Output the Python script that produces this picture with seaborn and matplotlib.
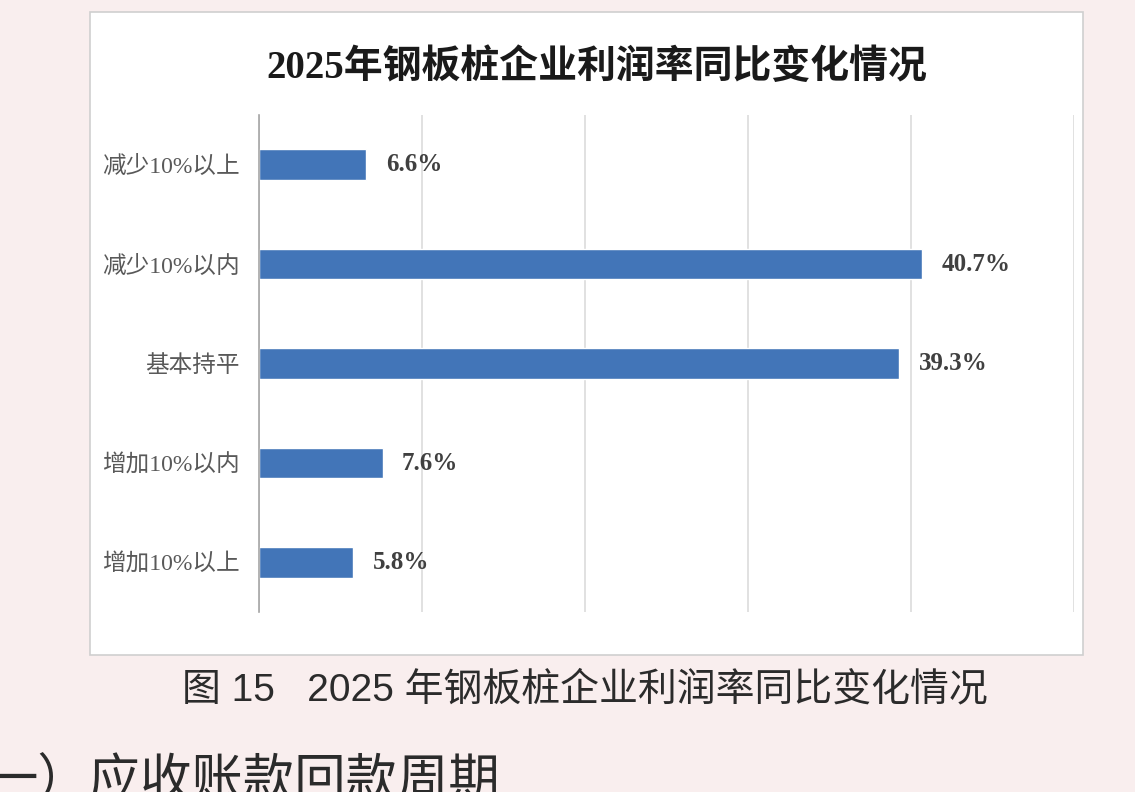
import matplotlib
matplotlib.use("Agg")
from matplotlib import pyplot as plt
from matplotlib.patches import Rectangle
import numpy as np
import pandas as pd
import seaborn as sns

categories = ['减少10%以上', '减少10%以内', '基本持平', '增加10%以内', '增加10%以上']
values = [6.6, 40.7, 39.3, 7.6, 5.8]
title = '2025年钢板桩企业利润率同比变化情况'
caption = '图 15   2025 年钢板桩企业利润率同比变化情况'
heading = '一）应收账款回款周期'

df = pd.DataFrame({'cat': categories, 'val': values})

sns.set_style('white')
plt.rcParams['font.family'] = ['Liberation Serif', 'Noto Sans CJK SC', 'DejaVu Sans']
serif = ['Liberation Serif', 'Noto Sans CJK SC']
sans = ['Liberation Sans', 'Noto Sans CJK SC']

fig = plt.figure(figsize=(11.35, 7.92), dpi=100)
fig.patch.set_facecolor('#f9eeee')

# white chart box behind the axes
box = Rectangle((0.079, 0.173), 0.875, 0.812, transform=fig.transFigure,
                facecolor='white', edgecolor='#cfcfcf', lw=1.2, zorder=-5)
fig.patches.append(box)

ax = fig.add_axes([0.228, 0.227, 0.718, 0.628])
ax.set_facecolor('none')
sns.barplot(data=df, x='val', y='cat', orient='h', color='#4275b8',
            width=0.31, saturation=1, ax=ax)

ax.set_xlim(0, 50)
ax.set_ylim(len(categories) - 0.5, -0.5)
ax.set_xticks(np.arange(0, 51, 10))
ax.set_xticklabels([])
ax.tick_params(axis='x', length=0)
ax.grid(axis='x', color='#d9d9d9', lw=1.1)
ax.set_axisbelow(True)
for s in ['top', 'right', 'bottom']:
    ax.spines[s].set_visible(False)
ax.spines['left'].set_color('#a6a6a6')
ax.spines['left'].set_linewidth(1.2)

ax.set_yticks(np.arange(-0.5, len(categories), 1.0), minor=True)
ax.tick_params(axis='y', which='minor', length=5, color='#a6a6a6', width=1.2)
ax.tick_params(axis='y', which='major', length=0, pad=14, labelsize=17,
               labelcolor='#595959')
ax.set_xlabel('')
ax.set_ylabel('')

ax.bar_label(ax.containers[0], labels=[f'{v:.1f}%' for v in values],
             padding=14, fontsize=18, color='#404040', fontweight='bold',
             family=serif)

fig.text(0.526, 0.914, title, ha='center', va='center', fontsize=28,
         fontweight='bold', color='#1a1a1a', family=serif)
fig.text(0.515, 0.129, caption, ha='center', va='center', fontsize=28,
         fontweight='medium', color='#2b2b2b', family=sans)
fig.text(-0.012, 0.012, heading, ha='left', va='center', fontsize=37,
         fontweight='medium', color='#2b2b2b', family=sans)

fig.savefig('out.png', dpi=100, facecolor=fig.get_facecolor())
